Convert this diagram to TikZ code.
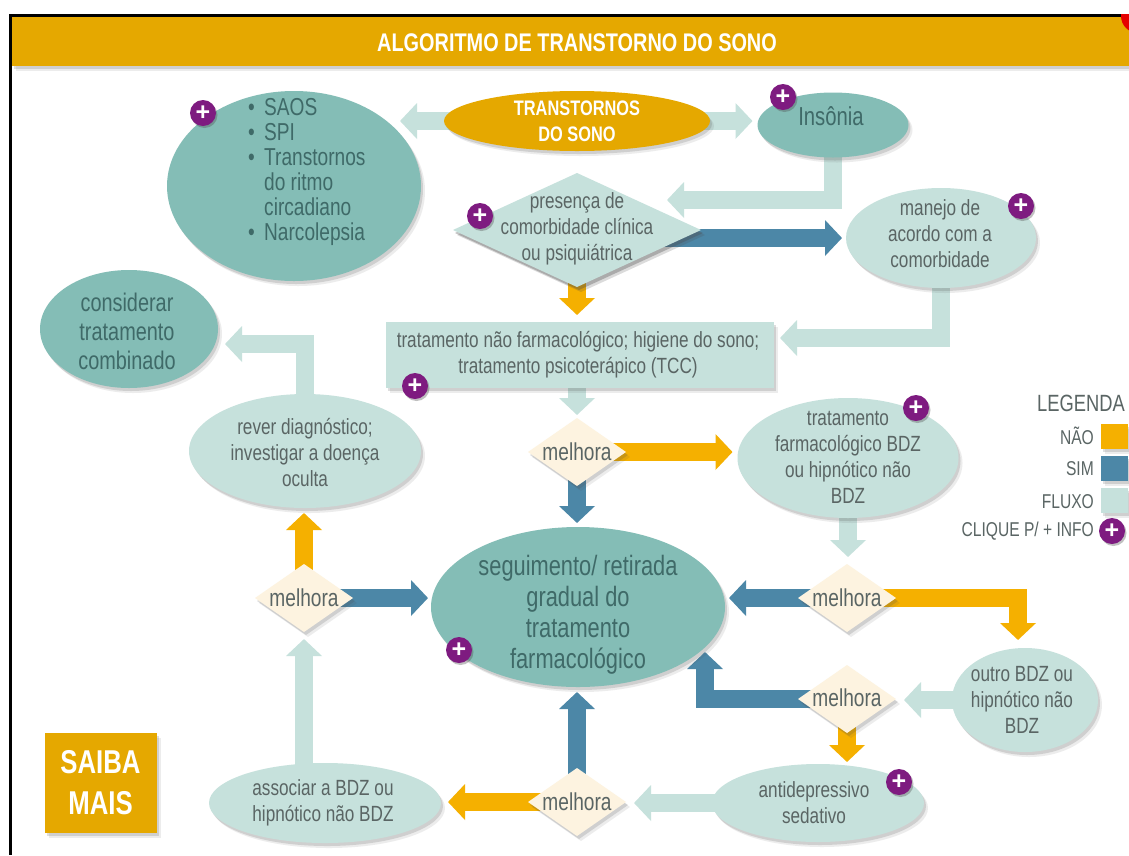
\documentclass[tikz,border=0pt]{standalone}
\usepackage{fontspec}
\setmainfont[FakeStretch=0.78]{Liberation Sans}
\newfontfamily\plusfont{Liberation Sans}
\usetikzlibrary{shapes.geometric,arrows.meta,shadows}
\pgfdeclarelayer{bg}
\pgfsetlayers{bg,main}
\definecolor{goldc}{HTML}{E5A800}
\definecolor{orangec}{HTML}{F5B000}
\definecolor{bluec}{HTML}{4C87A7}
\definecolor{darkt}{HTML}{84BDB6}
\definecolor{lightt}{HTML}{C6E1DC}
\definecolor{creamc}{HTML}{FDF3E0}
\definecolor{purplec}{HTML}{7E1B80}
\definecolor{inkc}{HTML}{5A6564}
\definecolor{inkd}{HTML}{3F6A68}
\newcommand{\bul}{\makebox[16pt][l]{•}}
\tikzset{
 softshadow/.style={drop shadow={shadow xshift=4pt,shadow yshift=-5pt,opacity=.1,fill=black!70},
   drop shadow={shadow xshift=2pt,shadow yshift=-3pt,opacity=.18,fill=black!70}},
 shapebase/.style={inner sep=0pt,outer sep=0pt,softshadow},
 darkell/.style={shapebase,ellipse,fill=darkt},
 lightell/.style={shapebase,ellipse,fill=lightt},
 decis/.style={shapebase,diamond,fill=creamc,minimum width=98pt,minimum height=68pt},
 txt/.style={align=center,text=inkc,inner sep=0pt,font=\fontsize{22}{26}\selectfont},
 txtm/.style={txt,font=\fontsize{24.5}{26}\selectfont},
 txtd/.style={align=center,text=inkd,inner sep=0pt,font=\fontsize{28}{31}\selectfont},
 plusicon/.style={circle,fill=purplec,minimum size=26pt,inner sep=0pt,text=white,
   font=\plusfont\bfseries\fontsize{25}{25}\selectfont,drop shadow={shadow xshift=1.5pt,shadow yshift=-2pt,opacity=.35,fill=black!70}},
 blockarrow/.style={line width=18pt,line join=miter,-{Triangle[length=17pt,width=35pt]}},
 flow/.style={blockarrow,draw=lightt},
 yes/.style={blockarrow,draw=bluec},
 no/.style={blockarrow,draw=orangec},
 legendtxt/.style={text=inkc,inner sep=0pt,anchor=east,font=\fontsize{20}{22}\selectfont},
 swatch/.style={shapebase,minimum width=27pt,minimum height=25pt}
}
\begin{document}
\begin{tikzpicture}[x=1pt,y=-1pt]
\useasboundingbox (0,0) rectangle (1129,855);
\begin{pgfonlayer}{bg}
\fill[white] (0,0) rectangle (1129,855);
\end{pgfonlayer}
% frame
\fill[black] (9,14) rectangle (1129,17);
\fill[black] (9,14) rectangle (12,855);
% header
\node[shapebase,rectangle,fill=goldc,minimum width=1117pt,minimum height=49pt,anchor=north west] (head) at (12,17) {};
\begin{scope}
\clip (1100,14) rectangle (1129,40);
\fill[red!90!black] (1138,16) circle (17);
\end{scope}
\node[text=white,inner sep=0pt,font=\bfseries\fontsize{25.5}{28}\selectfont] (title) at (577,43) {ALGORITMO DE TRANSTORNO DO SONO};
% shapes
\node[darkell,minimum width=254pt,minimum height=190pt] (saos) at (294,186) {};
\node[shapebase,ellipse,fill=goldc,minimum width=266pt,minimum height=60pt] (trans) at (577,121) {};
\node[darkell,minimum width=151pt,minimum height=65pt] (ins) at (833,125) {};
\node[lightell,shapebase,diamond,minimum width=248pt,minimum height=114pt] (pres) at (577,230) {};
\node[lightell,minimum width=190pt,minimum height=100pt] (man) at (941,238) {};
\node[shapebase,rectangle,fill=lightt,minimum width=388pt,minimum height=66pt] (rect) at (580,355) {};
\node[darkell,minimum width=178pt,minimum height=118pt] (cons) at (129,329) {};
\node[lightell,minimum width=232pt,minimum height=114pt] (rev) at (305,451) {};
\node[decis] (mel1) at (577,452) {};
\node[lightell,minimum width=221pt,minimum height=120pt] (tra) at (848,458) {};
\node[decis] (mel5) at (304,598) {};
\node[decis] (mel2) at (847,598) {};
\node[darkell,minimum width=294pt,minimum height=160pt] (cent) at (578,607) {};
\node[decis] (mel3) at (847,699) {};
\node[lightell,minimum width=146pt,minimum height=104pt] (out) at (1025,700) {};
\node[decis] (mel4) at (577,802) {};
\node[lightell,minimum width=212pt,minimum height=78pt] (anti) at (818,803) {};
\node[lightell,minimum width=232pt,minimum height=80pt] (ass) at (325,803) {};
\node[shapebase,rectangle,fill=goldc,minimum width=112pt,minimum height=100pt,align=center,text=white,font=\bfseries\fontsize{33}{41}\selectfont] (saiba) at (100.5,783) {SAIBA\\MAIS};
% texts
\node[txt,align=left,text=inkd,font=\fontsize{24.5}{25}\selectfont,anchor=north west] (saosT) at (248,98) {\bul SAOS\\\bul SPI\\\bul Transtornos\\\phantom{\bul}do ritmo\\\phantom{\bul}circadiano\\\bul Narcolepsia};
\node[align=center,text=white,inner sep=0pt,font=\bfseries\fontsize{21}{26}\selectfont] (transT) at (577,121) {TRANSTORNOS\\DO SONO};
\node[txtd,font=\fontsize{26}{28}\selectfont] (insT) at (831,116) {Insônia};
\node[txt] (presT) at (577,229) {presença de\\comorbidade clínica\\ou psiquiátrica};
\node[txt] (manT) at (940,234) {manejo de\\acordo com a\\comorbidade};
\node[txt] (rectT) at (578,355) {tratamento não farmacológico; higiene do sono;\\tratamento psicoterápico (TCC)};
\node[txtd,font=\fontsize{25.5}{29}\selectfont] (consT) at (127,331) {considerar\\tratamento\\combinado};
\node[txt] (revT) at (305,452) {rever diagnóstico;\\investigar a doença\\oculta};
\node[txtm] (m1T) at (577,452) {melhora};
\node[txt] (traT) at (848,457) {tratamento\\farmacológico BDZ\\ou hipnótico não\\BDZ};
\node[txtm] (m5T) at (304,598) {melhora};
\node[txtm] (m2T) at (847,598) {melhora};
\node[txtd] (centT) at (578,615) {seguimento/ retirada\\gradual do\\tratamento\\farmacológico};
\node[txtm] (m3T) at (847,698) {melhora};
\node[txt] (outT) at (1022,700) {outro BDZ ou\\hipnótico não\\BDZ};
\node[txtm] (m4T) at (577,802) {melhora};
\node[txt] (antiT) at (814,803) {antidepressivo\\sedativo};
\node[txt] (assT) at (323,803) {associar a BDZ ou\\hipnótico não BDZ};
% info icons
\node[plusicon] (p1) at (203,113) {+};
\node[plusicon] (p2) at (783,97) {+};
\node[plusicon] (p3) at (480,216) {+};
\node[plusicon] (p4) at (1021,206) {+};
\node[plusicon] (p5) at (415,386) {+};
\node[plusicon] (p6) at (916,408) {+};
\node[plusicon] (p7) at (459,650) {+};
\node[plusicon] (p8) at (899,782) {+};
% legend
\node[text=inkc,inner sep=0pt,anchor=east,font=\fontsize{23.5}{26}\selectfont] (leg) at (1125,403) {LEGENDA};
\node[swatch,fill=orangec] (swN) at (1114,436) {};
\node[swatch,fill=bluec] (swS) at (1114,468) {};
\node[swatch,fill=lightt] (swF) at (1114,500) {};
\node[plusicon] (swP) at (1112,531) {+};
\node[legendtxt] (lN) at (1094,436) {NÃO};
\node[legendtxt] (lS) at (1094,469) {SIM};
\node[legendtxt] (lF) at (1094,502) {FLUXO};
\node[legendtxt] (lC) at (1094,531) {CLIQUE P/ + INFO};
% free ends of the bent connectors
\coordinate (tipIns) at (667,200);
\coordinate (tipMan) at (780,338);
\coordinate (tipRev) at (225,344);
\coordinate (tipMel3) at (705,652);
\coordinate (tipMel2) at (1018,640);
\begin{pgfonlayer}{bg}
\draw[flow,shorten >=-21pt] (trans.center) -- (trans.center -| saos.east);
\draw[flow,shorten >=5pt] (trans.center) -- (trans.center -| ins.west);
\draw[flow] (ins.center) |- (tipIns);
\draw[yes,shorten >=4pt] (pres.center |- man.center) -- (man.west);
\draw[no,shorten >=7pt] (pres.center) -- (pres.center |- rect.north);
\draw[flow] (man.center) |- (tipMan);
\draw[flow,shorten >=3pt] (mel1.center |- rect.center) -- (mel1.north);
\draw[no,shorten >=5pt] (mel1.center) -- (mel1.center -| tra.west);
\draw[yes,shorten >=4pt] (mel1.center) -- (mel1.center |- cent.north);
\draw[flow,shorten >=7pt] (tra.center) -- (tra.center |- mel2.north);
\draw[yes,shorten >=4pt] (mel2.center) -- (mel2.center -| cent.east);
\draw[no] (mel2.center) -| (tipMel2);
\draw[flow,shorten >=8pt] (out.center) -- (out.center -| mel3.east);
\draw[yes] (mel3.center) -| (tipMel3);
\draw[no,shorten >=2pt] (mel3.center) -- (mel3.center |- anti.north);
\draw[flow,shorten >=8pt] (anti.center) -- (anti.center -| mel4.east);
\draw[yes,shorten >=5pt] (mel4.center) -- (mel4.center |- cent.south);
\draw[no,shorten >=7pt] (mel4.center) -- (mel4.center -| ass.east);
\draw[flow,shorten >=7pt] (mel5.center |- ass.center) -- (mel5.south);
\draw[no,shorten >=5pt] (mel5.center) -- (mel5.center |- rev.south);
\draw[yes,shorten >=3pt] (mel5.center) -- (mel5.center -| cent.west);
\draw[flow] (rev.center) |- (tipRev);
\end{pgfonlayer}
\end{tikzpicture}
\end{document}
